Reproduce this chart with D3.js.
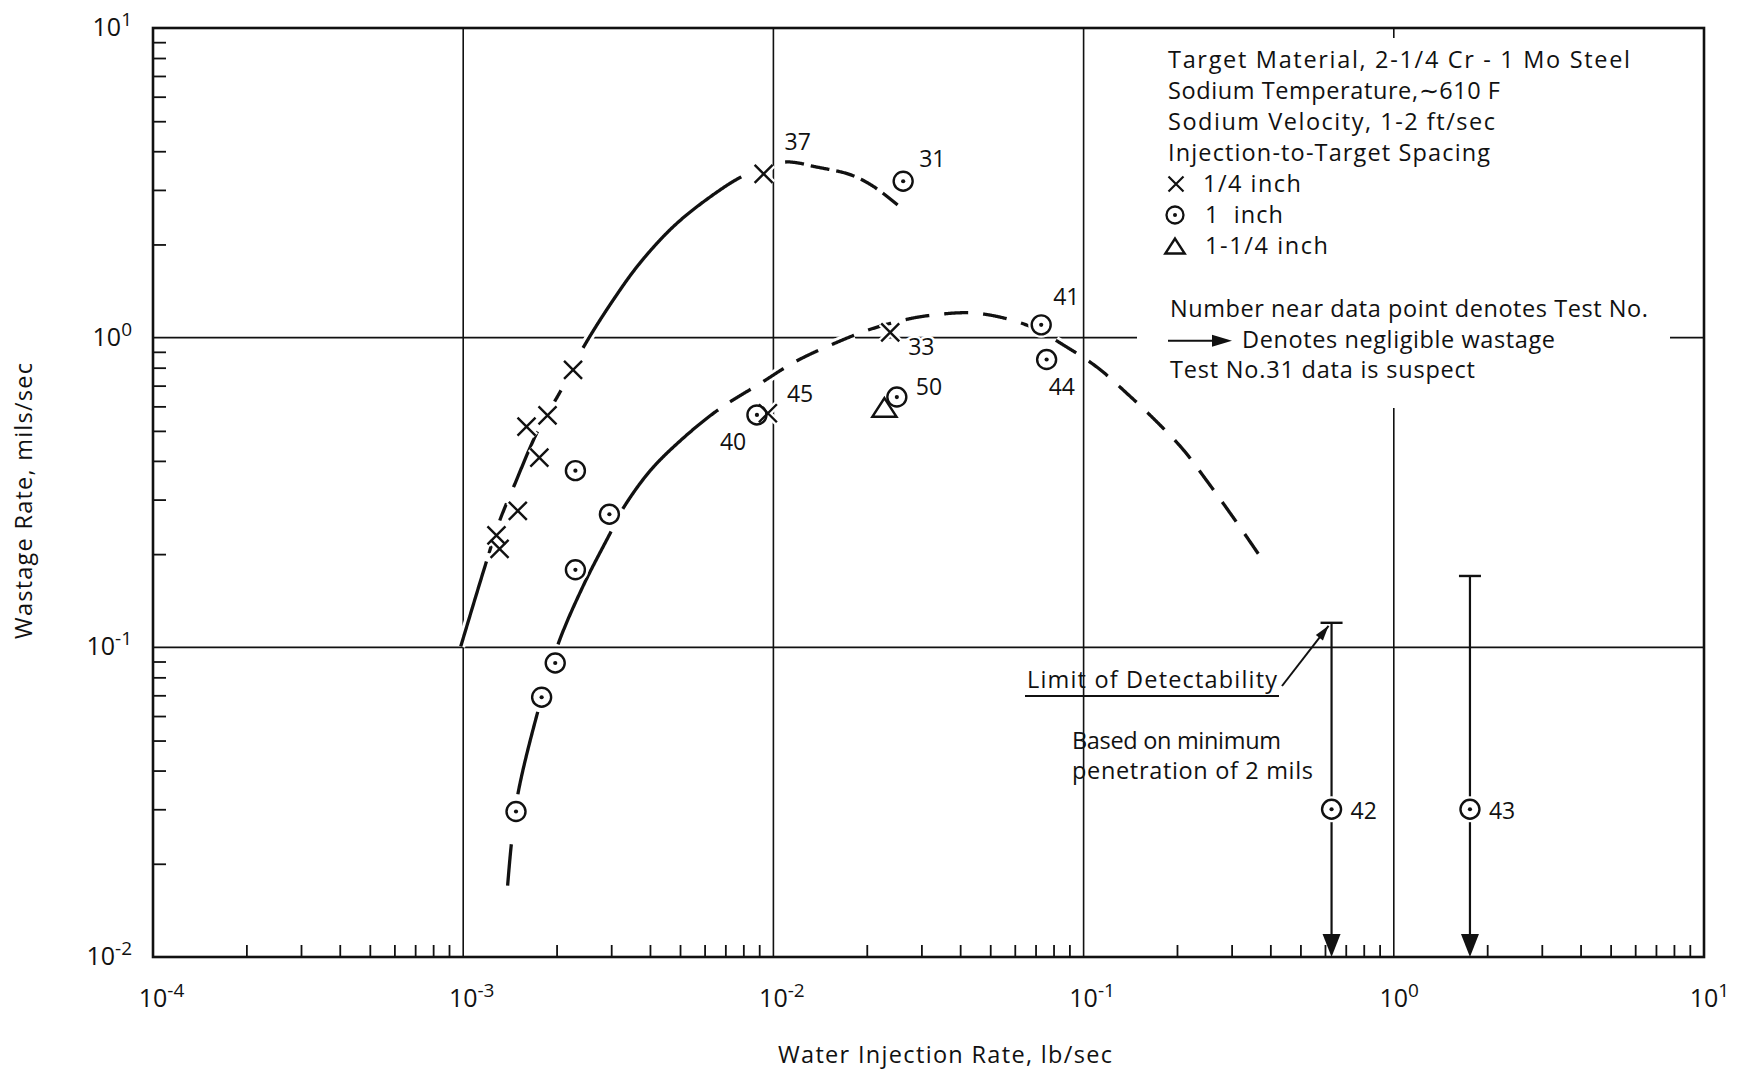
<!DOCTYPE html>
<html><head><meta charset="utf-8">
<script src="https://cdn.jsdelivr.net/npm/d3@7"></script>
<style>
html,body{margin:0;padding:0;background:#fff;}
svg{display:block;}
text{font-family:"Open Sans",sans-serif;fill:#111;white-space:pre;}
</style></head><body>
<svg id="chart" width="1741" height="1073"></svg>
<script>
// ---------------- data ----------------
const xTickExponents = [-4, -3, -2, -1, 0, 1];
const yTickExponents = [-2, -1, 0, 1];

// 1/4 inch spacing (X markers)
const quarterX    = [0.00128, 0.00131, 0.0015, 0.0016, 0.00176, 0.00187, 0.00226, 0.0093, 0.0096, 0.0238];
const quarterY    = [0.23, 0.208, 0.276, 0.516, 0.41, 0.561, 0.787, 3.38, 0.57, 1.04];
const quarterTest = ["", "", "", "", "", "", "", "37", "45", "33"];

// 1 inch spacing (dotted circles)
const oneX    = [0.00148, 0.00179, 0.00198, 0.0023, 0.0023, 0.00296, 0.00885, 0.025, 0.0262, 0.073, 0.076, 0.63, 1.76];
const oneY    = [0.0295, 0.069, 0.089, 0.178, 0.372, 0.269, 0.563, 0.643, 3.2, 1.1, 0.85, 0.03, 0.03];
const oneTest = ["", "", "", "", "", "", "40", "50", "31", "41", "44", "42", "43"];

// 1-1/4 inch spacing (triangle)
const oneQuarterX = [0.0228];
const oneQuarterY = [0.59];

// negligible-wastage bars (limit of detectability)
const limitX   = [0.63, 1.76];
const limitTop = [0.12, 0.17];

// fitted curve for 1/4 inch data
const curveAX = [0.00098, 0.00118, 0.00131, 0.00146, 0.00174, 0.00207, 0.00243, 0.00304, 0.00371, 0.00475, 0.00608, 0.0079, 0.0093, 0.0109, 0.0121, 0.01336, 0.0177, 0.021, 0.0254];
const curveAY = [0.1, 0.185, 0.256, 0.333, 0.5, 0.678, 0.924, 1.32, 1.74, 2.28, 2.79, 3.31, 3.52, 3.69, 3.66, 3.58, 3.36, 3.08, 2.66];
const curveASegStart = [0.00098, 0.00121, 0.00131, 0.00145, 0.00197, 0.00243, 0.0109];
const curveASegEnd   = [0.00119, 0.00125, 0.00138, 0.00174, 0.00207, 0.0079, 0.0254];
const curveASegDash  = [false, false, false, false, false, false, true];

// fitted curve for 1 inch data
const curveBX = [0.00139, 0.00143, 0.0015, 0.00174, 0.00202, 0.00243, 0.003, 0.00327, 0.00399, 0.00499, 0.00664, 0.00906, 0.01175, 0.0158, 0.0203, 0.0263, 0.032, 0.0449, 0.0659, 0.0888, 0.111, 0.139, 0.169, 0.209, 0.248, 0.31, 0.374];
const curveBY = [0.0169, 0.0232, 0.0335, 0.062, 0.102, 0.157, 0.237, 0.28, 0.37, 0.463, 0.585, 0.711, 0.836, 0.96, 1.06, 1.14, 1.18, 1.2, 1.096, 0.929, 0.8, 0.656, 0.545, 0.436, 0.348, 0.255, 0.194];
const curveBSegStart = [0.00139, 0.0015, 0.00202, 0.00327, 0.00724];
const curveBSegEnd   = [0.00143, 0.00174, 0.003, 0.00664, 0.374];
const curveBSegDash  = [false, false, false, false, true];

const legendHeader = ["Target Material, 2-1/4 Cr - 1 Mo Steel", "Sodium Temperature,\u223C610 F", "Sodium Velocity, 1-2 ft/sec", "Injection-to-Target Spacing"];
const legendSeries = ["1/4 inch", "1  inch", "1-1/4 inch"];
const noteLines = ["Number near data point denotes Test No.", "Denotes negligible wastage", "Test No.31 data is suspect"];
const limitText = "Limit of Detectability";
const basisLines = ["Based on minimum", "penetration of 2 mils"];
const xTitle = "Water Injection Rate, lb/sec";
const yTitle = "Wastage Rate, mils/sec";

// ---------------- layout ----------------
const svg = d3.select("#chart");
const m = {left: 153, right: 1704, top: 28, bottom: 957};
const x = d3.scaleLog().domain([1e-4, 1e1]).range([m.left, m.right]);
const y = d3.scaleLog().domain([1e-2, 1e1]).range([m.bottom, m.top]);
const INK = "#111";
const TXT = 23.5;

// stretch text to the width it has in the original typeset figure
function fit(sel, w) { sel.attr("textLength", w).attr("lengthAdjust", "spacing"); return sel; }

// label offsets (label start, baseline) relative to marker
const labelOffset = {"37":[21,-24], "31":[16,-14], "33":[18,23], "50":[19,-2], "45":[19,-11], "40":[-37,35],
                     "41":[12,-20], "44":[2,35], "42":[19,10], "43":[19,10]};

// ---------------- grid ----------------
const grid = svg.append("g").attr("stroke", INK).attr("stroke-width", 1.6);
xTickExponents.slice(1, -1).forEach(e => {
  grid.append("line").attr("x1", x(10 ** e)).attr("x2", x(10 ** e)).attr("y1", m.top).attr("y2", m.bottom);
});
yTickExponents.slice(1, -1).forEach(e => {
  grid.append("line").attr("x1", m.left).attr("x2", m.right).attr("y1", y(10 ** e)).attr("y2", y(10 ** e));
});

// minor ticks through d3 axes
const minorX = [], minorY = [];
for (let e = -4; e < 1; e++) for (let k = 2; k <= 9; k++) minorX.push(k * 10 ** e);
for (let e = -2; e < 1; e++) for (let k = 2; k <= 9; k++) minorY.push(k * 10 ** e);
const bx = svg.append("g").attr("transform", `translate(0,${m.bottom})`)
  .call(d3.axisBottom(x).tickValues(minorX).tickSize(-12).tickFormat(""));
const ly = svg.append("g").attr("transform", `translate(${m.left},0)`)
  .call(d3.axisLeft(y).tickValues(minorY).tickSize(-13).tickFormat(""));
[bx, ly].forEach(g => { g.select(".domain").remove(); g.selectAll("line").attr("stroke", INK).attr("stroke-width", 1.8); });

// white area behind the legend block (grid lines stop there)
svg.append("rect").attr("x", 1137).attr("y", 38).attr("width", 533).attr("height", 370).attr("fill", "#fff");

// border
svg.append("rect").attr("x", m.left).attr("y", m.top).attr("width", m.right - m.left).attr("height", m.bottom - m.top)
  .attr("fill", "none").attr("stroke", INK).attr("stroke-width", 2.6);

// major tick labels
function powLabel(g, e, xPos, yPos, anchor, centerBase) {
  const t = g.append("text").attr("x", xPos).attr("y", yPos).attr("font-size", 25).attr("text-anchor", anchor);
  t.append("tspan").text("10");
  t.append("tspan").attr("font-size", 19).attr("dy", -10).text(String(e));
  if (centerBase) {
    const w = t.node().getSubStringLength(0, 2);
    t.attr("x", xPos - w / 2);
  }
}
const xl = svg.append("g");
xTickExponents.forEach(e => powLabel(xl, e, x(10 ** e), m.bottom + 50, "start", true));
yTickExponents.forEach(e => powLabel(xl, e, 132, y(10 ** e) + 8, "end", false));

// axis titles
fit(svg.append("text").attr("x", 778).attr("y", 1063).attr("font-size", TXT).text(xTitle), 334);
fit(svg.append("text").attr("transform", "translate(32,639) rotate(-90)").attr("font-size", TXT).text(yTitle), 276);

// ---------------- curves ----------------
function drawCurve(xs, ys, s0, s1, sd, dashPattern) {
  const pts = xs.map((v, i) => [v, ys[i]]);
  const line = d3.line().x(d => x(d[0])).y(d => y(d[1])).curve(d3.curveCatmullRom.alpha(0.5));
  const tmp = svg.append("path").attr("d", line(pts)).attr("fill", "none");
  const node = tmp.node(), L = node.getTotalLength();
  const samples = d3.range(0, L, 0.8).map(l => node.getPointAtLength(l));
  samples.push(node.getPointAtLength(L));
  tmp.remove();
  const g = svg.append("g").attr("fill", "none");
  s0.forEach((a, i) => {
    const xa = x(a), xb = x(s1[i]);
    const p = samples.filter(q => q.x >= xa && q.x <= xb).map(q => [q.x, q.y]);
    const d = d3.line()(p);
    g.append("path").attr("d", d).attr("stroke", "#fff").attr("stroke-width", 9)
      .attr("stroke-dasharray", sd[i] ? dashPattern : null);
    g.append("path").attr("d", d).attr("stroke", INK).attr("stroke-width", 3.3)
      .attr("stroke-dasharray", sd[i] ? dashPattern : null);
  });
}
drawCurve(curveAX, curveAY, curveASegStart, curveASegEnd, curveASegDash, "19,7");
drawCurve(curveBX, curveBY, curveBSegStart, curveBSegEnd, curveBSegDash, "24,15");

// ---------------- limit bars ----------------
const lim = svg.append("g");
limitX.forEach((v, i) => {
  const px = x(v), pt = y(limitTop[i]);
  lim.append("line").attr("x1", px).attr("x2", px).attr("y1", pt).attr("y2", m.bottom - 18).attr("stroke", INK).attr("stroke-width", 2.2);
  lim.append("line").attr("x1", px - 11).attr("x2", px + 11).attr("y1", pt).attr("y2", pt).attr("stroke", INK).attr("stroke-width", 2.4);
  lim.append("path").attr("d", `M${px},${m.bottom}L${px - 9},${m.bottom - 23}L${px + 9},${m.bottom - 23}Z`).attr("fill", INK);
});

// ---------------- markers ----------------
const xPath = s => `M${-s},${-s}L${s},${s}M${-s},${s}L${s},${-s}`;
const triPath = s => `M0,${-s * 1.05}L${s * 1.2},${s * 0.8}L${-s * 1.2},${s * 0.8}Z`;
const mk = svg.append("g");
// halos first
quarterX.forEach((v, i) => mk.append("path").attr("transform", `translate(${x(v)},${y(quarterY[i])})`)
  .attr("d", xPath(9)).attr("stroke", "#fff").attr("stroke-width", 7).attr("fill", "none"));
oneX.forEach((v, i) => mk.append("circle").attr("cx", x(v)).attr("cy", y(oneY[i])).attr("r", 9.5)
  .attr("stroke", "#fff").attr("stroke-width", 7).attr("fill", "#fff"));
oneQuarterX.forEach((v, i) => mk.append("path").attr("transform", `translate(${x(v)},${y(oneQuarterY[i])})`)
  .attr("d", triPath(10)).attr("stroke", "#fff").attr("stroke-width", 7).attr("fill", "#fff"));
// marks
oneQuarterX.forEach((v, i) => mk.append("path").attr("transform", `translate(${x(v)},${y(oneQuarterY[i])})`)
  .attr("d", triPath(10)).attr("stroke", INK).attr("stroke-width", 2.5).attr("fill", "none").attr("stroke-linejoin", "miter"));
quarterX.forEach((v, i) => mk.append("path").attr("transform", `translate(${x(v)},${y(quarterY[i])})`)
  .attr("d", xPath(9)).attr("stroke", INK).attr("stroke-width", 2.4).attr("fill", "none"));
oneX.forEach((v, i) => {
  mk.append("circle").attr("cx", x(v)).attr("cy", y(oneY[i])).attr("r", 9.5).attr("stroke", INK).attr("stroke-width", 2.4).attr("fill", "none");
  mk.append("circle").attr("cx", x(v)).attr("cy", y(oneY[i])).attr("r", 2.1).attr("fill", INK);
});

// test-number labels
const lab = svg.append("g").attr("font-size", 23);
function testLabel(v, w, t) {
  if (!t) return;
  const o = labelOffset[t];
  lab.append("text").attr("x", x(v) + o[0]).attr("y", y(w) + o[1]).text(t)
    .attr("stroke", "#fff").attr("stroke-width", 5).attr("paint-order", "stroke");
}
quarterX.forEach((v, i) => testLabel(v, quarterY[i], quarterTest[i]));
oneX.forEach((v, i) => testLabel(v, oneY[i], oneTest[i]));

// ---------------- legend ----------------
const lg = svg.append("g").attr("font-size", TXT);
const LX = 1168, LY0 = 68, LDY = 31;
const headW = [462, 332, 327, 322];
legendHeader.forEach((t, i) => fit(lg.append("text").attr("x", LX).attr("y", LY0 + i * LDY).text(t), headW[i]));
const symY = i => LY0 + (4 + i) * LDY - 8;
lg.append("path").attr("transform", `translate(${LX + 8},${symY(0)})`).attr("d", xPath(7.5)).attr("stroke", INK).attr("stroke-width", 2.2).attr("fill", "none");
lg.append("circle").attr("cx", LX + 7).attr("cy", symY(1)).attr("r", 8.5).attr("stroke", INK).attr("stroke-width", 2.3).attr("fill", "none");
lg.append("circle").attr("cx", LX + 7).attr("cy", symY(1)).attr("r", 2).attr("fill", INK);
lg.append("path").attr("transform", `translate(${LX + 7},${symY(2) + 1})`).attr("d", triPath(8)).attr("stroke", INK).attr("stroke-width", 2.5).attr("fill", "none");
const serX = [1203, 1205, 1205], serW = [98, 78, 123];
legendSeries.forEach((t, i) => fit(lg.append("text").attr("x", serX[i]).attr("y", LY0 + (4 + i) * LDY).text(t), serW[i]));
const NY0 = 317, NDY = 30.7;
fit(lg.append("text").attr("x", LX + 2).attr("y", NY0).text(noteLines[0]), 478);
lg.append("line").attr("x1", LX).attr("x2", LX + 48).attr("y1", NY0 + NDY - 7).attr("y2", NY0 + NDY - 7).attr("stroke", INK).attr("stroke-width", 2);
lg.append("path").attr("d", `M${LX + 64},${NY0 + NDY - 7}L${LX + 44},${NY0 + NDY - 13}L${LX + 44},${NY0 + NDY - 1}Z`).attr("fill", INK);
fit(lg.append("text").attr("x", 1242).attr("y", NY0 + NDY).text(noteLines[1]), 313);
fit(lg.append("text").attr("x", LX + 2).attr("y", NY0 + 2 * NDY).text(noteLines[2]), 305);

// limit of detectability annotation
const an = svg.append("g").attr("font-size", TXT);
fit(an.append("text").attr("x", 1027).attr("y", 688).text(limitText), 250);
an.append("line").attr("x1", 1025).attr("x2", 1279).attr("y1", 696).attr("y2", 696).attr("stroke", INK).attr("stroke-width", 2);
const tipX = x(limitX[0]) - 3, tipY = y(limitTop[0]) + 3;
const tailX = 1282, tailY = 686;
an.append("line").attr("x1", tailX).attr("y1", tailY).attr("x2", tipX).attr("y2", tipY).attr("stroke", INK).attr("stroke-width", 2);
{
  const ang = Math.atan2(tipY - tailY, tipX - tailX), L = 15, Wd = 4.5;
  const bxp = tipX - L * Math.cos(ang), byp = tipY - L * Math.sin(ang);
  const nx = -Math.sin(ang) * Wd, ny = Math.cos(ang) * Wd;
  an.append("path").attr("d", `M${tipX},${tipY}L${bxp + nx},${byp + ny}L${bxp - nx},${byp - ny}Z`).attr("fill", INK);
}
const basisW = [209, 241];
basisLines.forEach((t, i) => fit(an.append("text").attr("x", 1072).attr("y", 749 + i * 30).text(t), basisW[i]));
</script>
</body></html>
